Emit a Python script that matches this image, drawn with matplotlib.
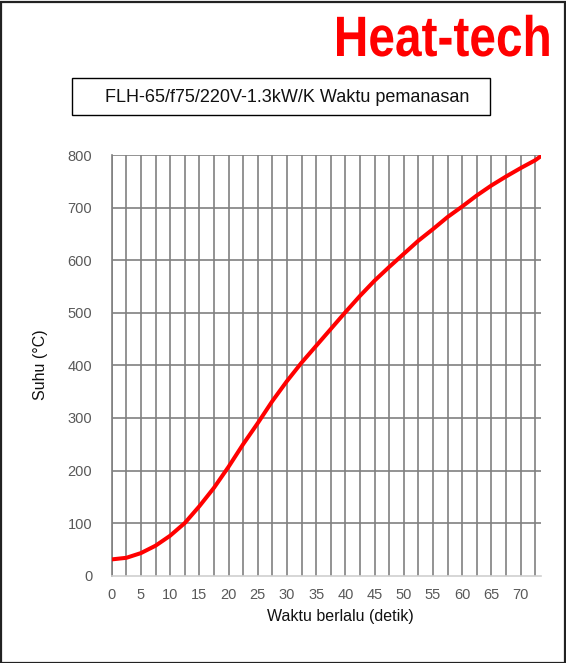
import matplotlib
matplotlib.use("Agg")
import matplotlib.pyplot as plt
from matplotlib.patches import Rectangle
from matplotlib.patheffects import AbstractPathEffect
from matplotlib.transforms import Affine2D
import numpy as np

# Data
time_s = [0, 2.5, 5, 7.5, 10, 12.5, 15, 17.5, 20, 22.5, 25, 27.5, 30, 32.5, 35,
          37.5, 40, 42.5, 45, 47.5, 50, 52.5, 55, 57.5, 60, 62.5, 65, 67.5, 70,
          72.5, 73.5]
temp_c = [31, 34, 43, 57, 76, 100, 132, 167, 207, 250, 290, 332, 370, 405, 437,
          469, 501, 532, 561, 587, 612, 637, 659, 682, 702, 723, 742, 759, 775,
          790, 798]
x_ticks = [0, 5, 10, 15, 20, 25, 30, 35, 40, 45, 50, 55, 60, 65, 70]
y_ticks = [0, 100, 200, 300, 400, 500, 600, 700, 800]
x_grid = list(np.arange(0, 73, 2.5))

title = "FLH-65/f75/220V-1.3kW/K Waktu pemanasan"
brand = "Heat-tech"
xlabel = "Waktu berlalu (detik)"
ylabel = "Suhu (°C)"

plt.rcParams['font.family'] = ['Liberation Sans', 'DejaVu Sans']

W, H = 566, 663
fig = plt.figure(figsize=(W / 100, H / 100), dpi=100)


class Squeeze(AbstractPathEffect):
    """Horizontally condense text glyphs around a fixed display x."""
    def __init__(self, sx, x0):
        super().__init__()
        self.sx = sx
        self.x0 = x0

    def draw_path(self, renderer, gc, tpath, affine, rgbFace=None):
        aff = affine + Affine2D().translate(-self.x0, 0).scale(self.sx, 1).translate(self.x0, 0)
        renderer.draw_path(gc, tpath, aff, rgbFace)


# outer border
fig.patches.append(Rectangle((0.5 / W, 0.5 / H), 1 - 2 / W, 1 - 2.5 / H,
                             transform=fig.transFigure, fill=False,
                             edgecolor='#222222', linewidth=1.6))

# brand
fig.text(552 / W, 1 - 41 / H, brand, color='#ff0000', fontsize=41,
         fontweight='bold', ha='right', va='center',
         path_effects=[Squeeze(0.84, 552)])

# title box
fig.patches.append(Rectangle((72 / W, 1 - 115 / H), (490 - 72) / W, (115 - 78) / H,
                             transform=fig.transFigure, fill=False,
                             edgecolor='#000000', linewidth=1.0))
fig.text(287 / W, 1 - 97 / H, title, fontsize=13, ha='center', va='center', color='#111111')

left, right = 111.7 / W, 541 / W
bottom, top = 1 - 575.7 / H, 1 - 155 / H
ax = fig.add_axes([left, bottom, right - left, top - bottom])

ax.plot(time_s, temp_c, color='#ff0000', linewidth=2.9, solid_capstyle='round',
        solid_joinstyle='round', zorder=3)

ax.set_xlim(0, 73.5)
ax.set_ylim(0, 800)
ax.set_xticks(x_ticks)
ax.set_yticks(y_ticks)
ax.set_xticklabels([str(v) for v in x_ticks])
ax.set_yticklabels([str(v) for v in y_ticks])
ax.tick_params(axis='both', length=0, labelsize=10.5, labelcolor='#595959')
ax.tick_params(axis='x', pad=9)
ax.tick_params(axis='y', pad=14)

for xv in x_grid:
    ax.axvline(xv, color='#808080', linewidth=1.2, zorder=1)
for yv in y_ticks[1:]:
    ax.axhline(yv, color='#808080', linewidth=1.2, zorder=1)

for s in ['top', 'right']:
    ax.spines[s].set_visible(False)
ax.spines['left'].set_color('#808080')
ax.spines['left'].set_linewidth(1.2)
ax.spines['bottom'].set_color('#d0d0d0')
ax.spines['bottom'].set_linewidth(1.2)

fig.text(340 / W, 1 - 617 / H, xlabel, fontsize=11.5, ha='center', va='center', color='#111111')
fig.text(40 / W, 1 - 365 / H, ylabel, fontsize=11.5, ha='center', va='center',
         rotation=90, color='#111111')

fig.savefig("out.png", dpi=100)
